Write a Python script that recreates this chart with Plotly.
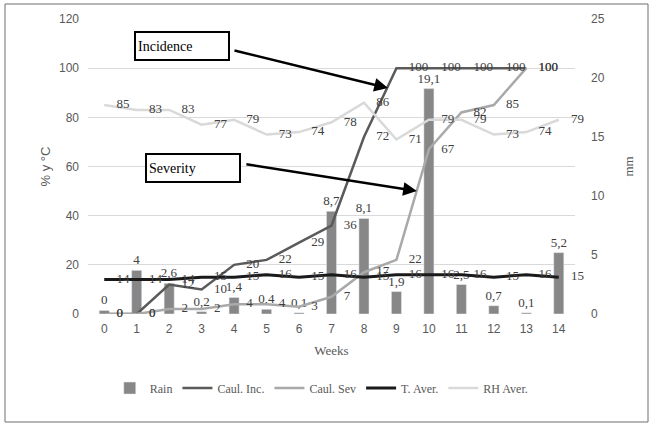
import plotly.graph_objects as go

weeks = list(range(15))
rain = [0.3, 3.7, 2.6, 0.2, 1.4, 0.4, 0.1, 8.7, 8.1, 1.9, 19.1, 2.5, 0.7, 0.1, 5.2]
rain_labels = ["0", "4", "2,6", "0,2", "1,4", "0,4", "0,1", "8,7", "8,1", "1,9",
               "19,1", "2,5", "0,7", "0,1", "5,2"]
caul_inc = [0, 0, 12, 10, 20, 22, 29, 36, 72, 100, 100, 100, 100, 100]
caul_sev = [0, 0, 2, 2, 4, 4, 3, 7, 17, 22, 67, 82, 85, 100]
t_aver = [14, 14, 14, 15, 15, 16, 15, 16, 15, 16, 16, 16, 15, 16, 15]
rh_aver = [85, 83, 83, 77, 79, 73, 74, 78, 86, 71, 79, 79, 73, 74, 79]

SERIF = "Liberation Serif"
SANS = "Liberation Sans"
LBL = dict(family=SERIF, size=13, color="#404040")

fig = go.Figure()
fig.add_trace(go.Bar(
    x=weeks, y=rain, name="Rain", yaxis="y", width=0.31,
    marker=dict(color="#878787"), text=rain_labels, textposition="outside",
    textfont=LBL, constraintext="none", cliponaxis=False))

series = [(caul_inc, "Caul. Inc.", "#5a5a5a", 2.5),
          (caul_sev, "Caul. Sev", "#a9a9a9", 2.5),
          (t_aver, "T. Aver.", "#1a1a1a", 3),
          (rh_aver, "RH Aver.", "#d9d9d9", 2.5)]

for vals, name, color, w in series:
    fig.add_trace(go.Scatter(
        x=weeks[:len(vals)], y=vals, name=name, yaxis="y2", mode="lines",
        line=dict(color=color, width=w)))

for vals, name, color, w in series:
    fig.add_trace(go.Scatter(
        x=weeks[:len(vals)], y=vals, yaxis="y2", mode="markers+text",
        marker=dict(size=18, opacity=0, color=color), showlegend=False,
        text=[str(v) for v in vals], textposition="middle right",
        textfont=LBL, cliponaxis=False, hoverinfo="skip"))

fig.update_layout(
    width=656, height=436,
    margin=dict(l=88, r=81, t=19, b=122),
    paper_bgcolor="white", plot_bgcolor="white",
    showlegend=True,
    legend=dict(orientation="h", x=0.48, xanchor="center", y=-0.251, yanchor="middle",
                font=dict(family=SERIF, size=12, color="#595959"), itemwidth=30),
    xaxis=dict(range=[-0.5, 14.5], tickmode="array", tickvals=weeks,
               ticktext=[str(w) for w in weeks], showgrid=False, zeroline=False,
               showline=False, ticks="", ticklabelstandoff=6, automargin=False,
               tickfont=dict(family=SANS, size=12, color="#595959"),
               title=dict(text="Weeks", standoff=10,
                          font=dict(family=SERIF, size=13, color="#595959"))),
    yaxis=dict(range=[0, 25], dtick=5, side="right", showgrid=False, zeroline=False,
               showline=False, ticklabelstandoff=15, automargin=False,
               tickfont=dict(family=SANS, size=12, color="#595959"),
               title=dict(text="mm", standoff=20,
                          font=dict(family=SERIF, size=13, color="#595959"))),
    yaxis2=dict(range=[0, 120], dtick=20, side="left", overlaying="y",
                showgrid=True, gridcolor="#d9d9d9", gridwidth=1, zeroline=False,
                showline=False, ticklabelstandoff=8, automargin=False,
                tickfont=dict(family=SANS, size=12, color="#595959"),
                title=dict(text="% y °C", standoff=5,
                           font=dict(family=SANS, size=13, color="#595959"))),
)

# outer border
fig.add_shape(type="rect", xref="paper", yref="paper",
              x0=-0.1704, x1=1.1499, y0=-0.3661, y1=1.0508,
              line=dict(color="#6e6e6e", width=1), fillcolor="rgba(0,0,0,0)")

# boxes
for txt, xc, yc in [("Incidence", 0.194, 0.907), ("Severity", 0.2146, 0.4966)]:
    fig.add_annotation(xref="paper", yref="paper", x=xc, y=yc, text=txt,
                       xanchor="center", yanchor="middle",
                       showarrow=False, align="left", width=88, height=22,
                       bordercolor="black", borderwidth=2, borderpad=2,
                       bgcolor="white", font=dict(family=SERIF, size=14, color="black"))

# arrows
for xt, yt, ax, ay in [(8.74, 91.9, -155, -38), (9.63, 50.0, -172, -27)]:
    fig.add_annotation(xref="x", yref="y2", x=xt, y=yt, ax=ax, ay=ay, text="",
                       showarrow=True, arrowhead=2, arrowsize=1.1, arrowwidth=2.5,
                       arrowcolor="black")

fig.write_html("out.html", config={"displayModeBar": False},
               post_script="document.body.style.margin='0px';")
